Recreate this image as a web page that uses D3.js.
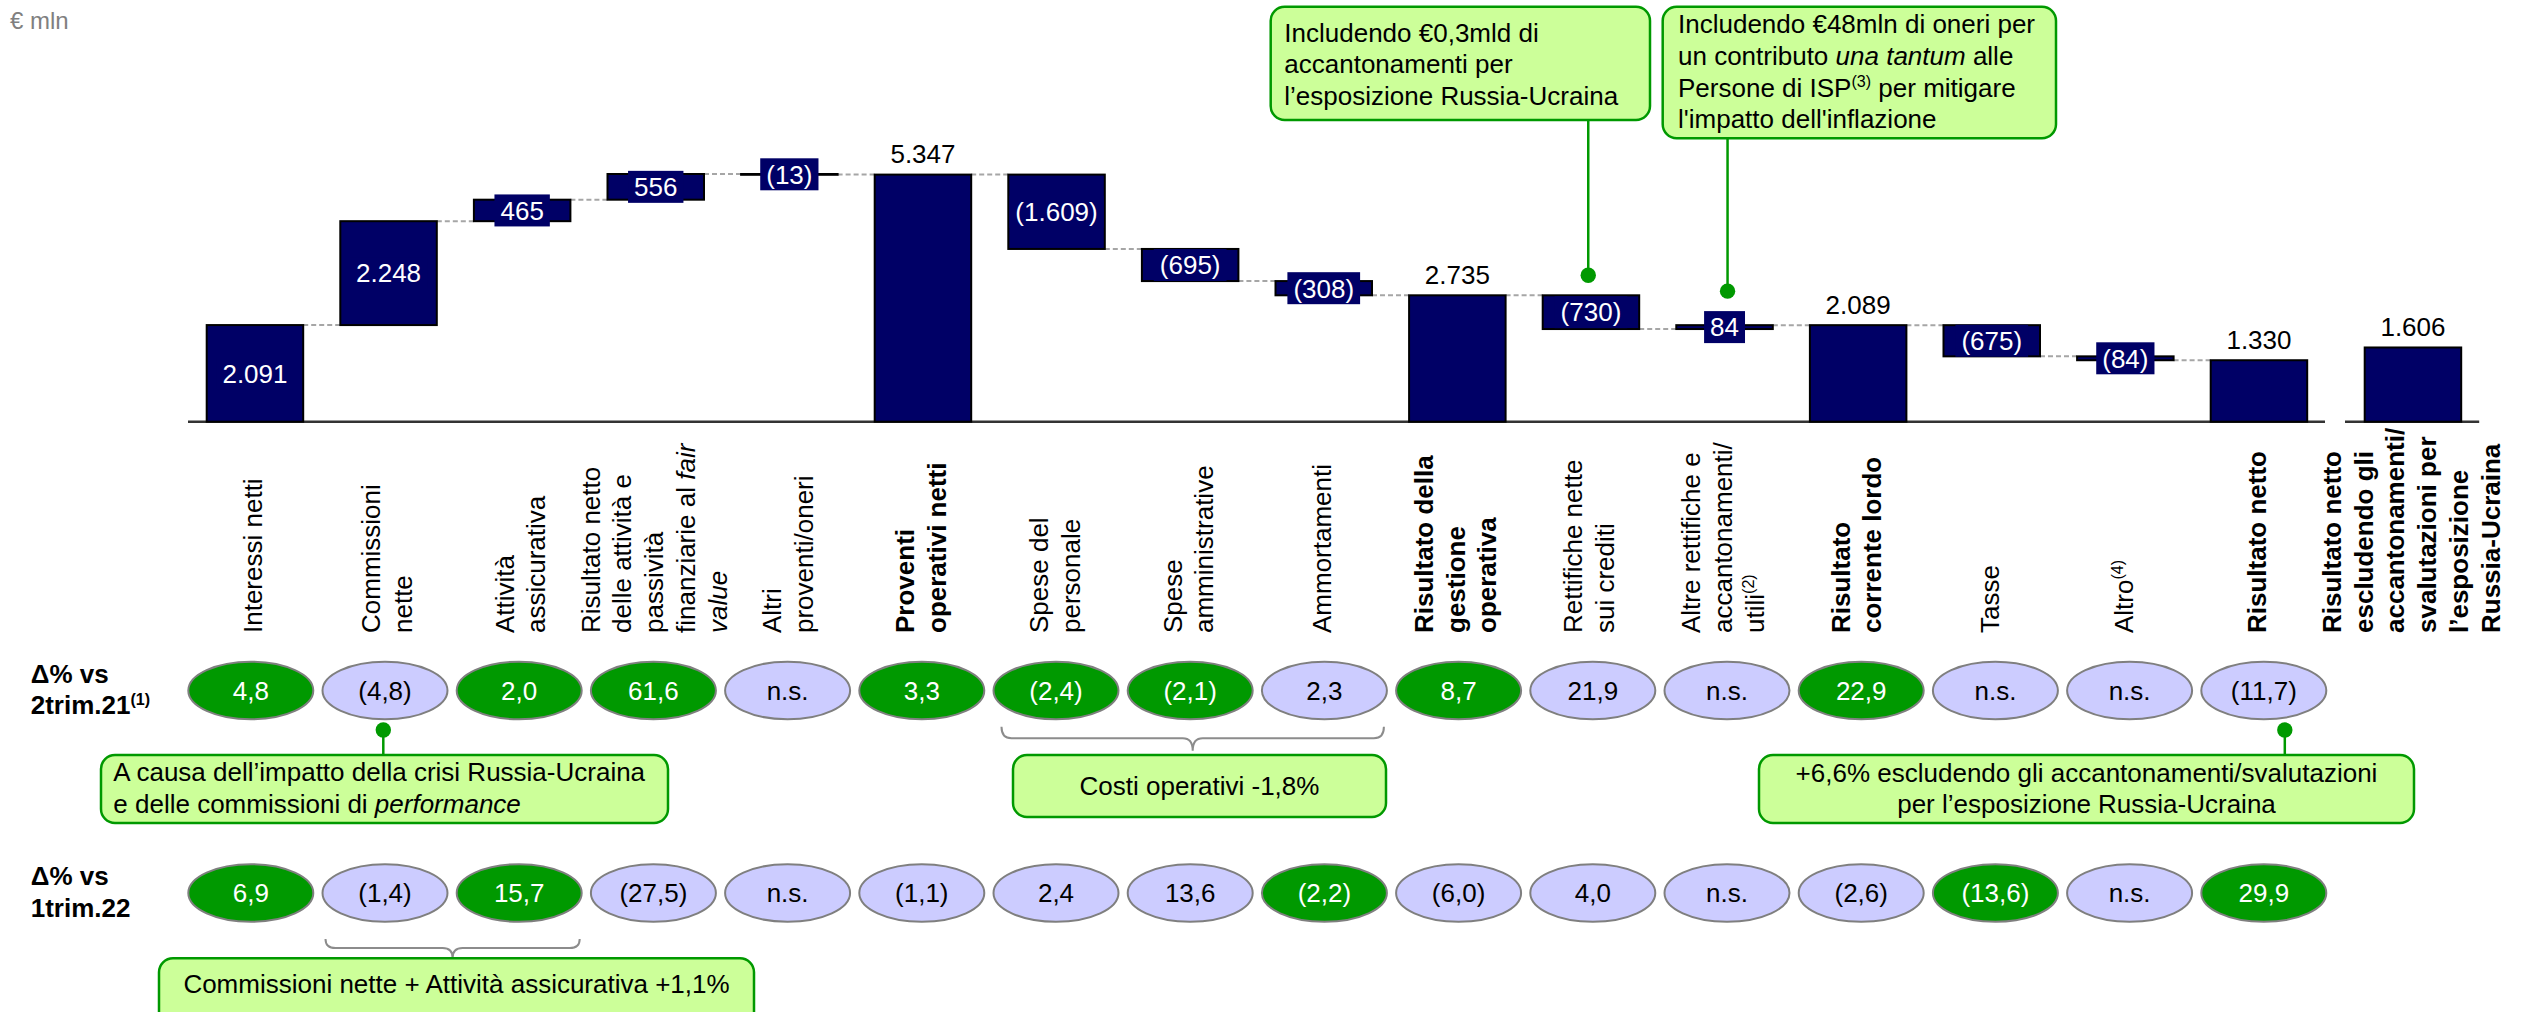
<!DOCTYPE html>
<html>
<head>
<meta charset="utf-8">
<script src="https://cdn.jsdelivr.net/npm/d3@7"></script>
<style>
	body { margin: 0; background: #fff; }
	svg text { font-family: "Liberation Sans", Arial, Helvetica, sans-serif; }
</style>
</head>
<body>
<div id="chart_area"></div>
<script>

//////////////////////DATA//////////////////////////

// rotated category labels, one entry per line ("_x_" italic, "^x^" superscript)
var categories = [
	["Interessi netti"],
	["Commissioni", "nette"],
	["Attività", "assicurativa"],
	["Risultato netto", "delle attività e", "passività", "finanziarie al _fair_", "_value_"],
	["Altri", "proventi/oneri"],
	["Proventi", "operativi netti"],
	["Spese del", "personale"],
	["Spese", "amministrative"],
	["Ammortamenti"],
	["Risultato della", "gestione", "operativa"],
	["Rettifiche nette", "sui crediti"],
	["Altre rettifiche e", "accantonamenti/", "utili^(2)^"],
	["Risultato", "corrente lordo"],
	["Tasse"],
	["Altro^(4)^"],
	["Risultato netto"],
	["Risultato netto", "escludendo gli", "accantonamenti/", "svalutazioni per", "l’esposizione", "Russia-Ucraina"]
];
var boldCategories = [5, 9, 12, 15, 16];

// waterfall values, € mln
var values = [2091, 2248, 465, 556, -13, 5347, -1609, -695, -308, 2735, -730, 84, 2089, -675, -84, 1330, 1606];
var barTypes = ["start", "delta", "delta", "delta", "delta", "total", "delta", "delta", "delta", "total",
				"delta", "delta", "total", "delta", "delta", "total", "extra"];

// Δ% rows (good = green bubble)
var rowLabels = [["Δ% vs", "2trim.21^(1)^"], ["Δ% vs", "1trim.22"]];
var vs2q21 = ["4,8", "(4,8)", "2,0", "61,6", "n.s.", "3,3", "(2,4)", "(2,1)", "2,3", "8,7", "21,9", "n.s.", "22,9", "n.s.", "n.s.", "(11,7)"];
var vs2q21Good = [1, 0, 1, 1, 0, 1, 1, 1, 0, 1, 0, 0, 1, 0, 0, 0];
var vs1q22 = ["6,9", "(1,4)", "15,7", "(27,5)", "n.s.", "(1,1)", "2,4", "13,6", "(2,2)", "(6,0)", "4,0", "n.s.", "(2,6)", "(13,6)", "n.s.", "29,9"];
var vs1q22Good = [1, 0, 1, 0, 0, 0, 0, 0, 1, 0, 0, 0, 0, 1, 0, 1];

// callout texts
var noteProvisions = ["Includendo €0,3mld di", "accantonamenti per", "l’esposizione Russia-Ucraina"];
var noteCharges = ["Includendo €48mln di oneri per", "un contributo _una tantum_ alle", "Persone di ISP^(3)^ per mitigare", "l'impatto dell'inflazione"];
var noteFees = ["A causa dell’impatto della crisi Russia-Ucraina", "e delle commissioni di _performance_"];
var noteCosts = ["Costi operativi -1,8%"];
var noteNet = ["+6,6% escludendo gli accantonamenti/svalutazioni", "per l’esposizione Russia-Ucraina"];
var noteFeesIns = ["Commissioni nette + Attività assicurativa +1,1%"];
var unitLabel = "€ mln";


//////////////////////SETUP//////////////////////////

var frame_width = 2524;
var frame_height = 1012;
var fs = 26;          // base font size
var lh = 31.7;        // line height
var navy = "#000066";
var green = "#009900";
var lilac = "#ccccff";
var noteFill = "#ccff99";

var svg = d3.select("#chart_area").append("svg")
			.attr("width", frame_width)
			.attr("height", frame_height);

var itLocale = d3.formatLocale({decimal: ",", thousands: ".", grouping: [3], currency: ["€", ""]});
var fmt = itLocale.format(",");
function fmtVal(v) { return v < 0 ? "(" + fmt(-v) + ")" : fmt(v); }

// write a string with italic / superscript markup into a text element
function rich(textEl, str, size) {
	var parts = str.split(/(_[^_]+_|\^[^\^]+\^)/).filter(function(s){ return s.length; });
	var raised = false;
	parts.forEach(function(p){
		var t;
		if (p[0] == "^") {
			t = textEl.append("tspan").attr("font-size", size * 0.62).attr("dy", -size * 0.38).text(p.slice(1, -1));
			raised = true;
		} else {
			t = textEl.append("tspan").text(p[0] == "_" ? p.slice(1, -1) : p);
			if (p[0] == "_") t.style("font-style", "italic");
			if (raised) { t.attr("dy", size * 0.38); raised = false; }
		}
	});
	return textEl;
}

// running levels of the waterfall
var level = 0;
var bars = values.map(function(v, i){
	var t = barTypes[i], y0, y1;
	if (t == "delta") { y0 = level; y1 = level + v; }
	else { y0 = 0; y1 = v; }
	level = y1;
	return {i: i, v: v, type: t, lo: Math.min(y0, y1), hi: Math.max(y0, y1), end: y1};
});

// scales
var x = d3.scaleBand()
			.domain(d3.range(16))
			.range([169.6, 2344.3])
			.paddingInner(0.2777)
			.paddingOuter(0.2777);
var bw = x.bandwidth();
var extraX = x(15) + x.step() + 20.4;
function barX(i) { return i < 16 ? x(i) : extraX; }

var yScale = d3.scaleLinear()
			.domain([0, d3.max(bars, function(d){ return d.hi; })])
			.range([421.7, 174]);

var ex = d3.scaleBand()
			.domain(d3.range(16))
			.range([188.3, 2326.3])
			.paddingInner(0.0686)
			.paddingOuter(0);


//////////////////////WATERFALL//////////////////////////

svg.append("text")
	.attr("x", 10).attr("y", 29)
	.attr("font-size", 24)
	.attr("fill", "#808080")
	.text(unitLabel);

// dashed links between bars
var links = svg.append("g");
for (var i = 0; i < 15; i++) {
	links.append("line")
		.attr("x1", barX(i) + bw).attr("x2", barX(i + 1))
		.attr("y1", yScale(bars[i].end)).attr("y2", yScale(bars[i].end))
		.attr("stroke", "#a6a6a6")
		.attr("stroke-width", 2)
		.attr("stroke-dasharray", "5,3");
}

// baselines
svg.append("line")
	.attr("x1", x(0) - 18.7).attr("x2", x(15) + bw + 17.8)
	.attr("y1", yScale(0)).attr("y2", yScale(0))
	.attr("stroke", "#333").attr("stroke-width", 2.5);
svg.append("line")
	.attr("x1", extraX - 19.7).attr("x2", extraX + bw + 18)
	.attr("y1", yScale(0)).attr("y2", yScale(0))
	.attr("stroke", "#333").attr("stroke-width", 2.5);

svg.append("g").selectAll("rect")
	.data(bars)
	.enter().append("rect")
	.attr("x", function(d){ return barX(d.i); })
	.attr("y", function(d){ return yScale(d.hi); })
	.attr("width", bw)
	.attr("height", function(d){ return Math.max(yScale(d.lo) - yScale(d.hi), 0.8); })
	.attr("fill", navy)
	.attr("stroke", "#000")
	.attr("stroke-width", 2);

// value labels
var vl = svg.append("g").selectAll("g")
	.data(bars)
	.enter().append("g")
	.attr("transform", function(d){
		var cx = barX(d.i) + bw / 2;
		var cy = (d.type == "total" || d.type == "extra") ? yScale(d.hi) - 11.3 : (yScale(d.lo) + yScale(d.hi)) / 2;
		return "translate(" + cx + "," + cy + ")";
	});
vl.each(function(d){
	var g = d3.select(this);
	var inside = !(d.type == "total" || d.type == "extra");
	var t = g.append("text")
		.attr("text-anchor", "middle")
		.attr("font-size", fs)
		.attr("y", inside ? fs * 0.358 : 0)
		.attr("fill", inside ? "#fff" : "#000")
		.text(fmtVal(d.v));
	if (inside) {
		var w = t.node().getComputedTextLength() + 12;
		g.insert("rect", "text")
			.attr("x", -w / 2).attr("y", -16)
			.attr("width", w).attr("height", 32)
			.attr("fill", navy);
	}
});

// rotated category labels
var cats = svg.append("g").selectAll("g")
	.data(categories)
	.enter().append("g")
	.attr("transform", function(d, i){ return "translate(" + (barX(i) + bw / 2 - 2) + ",633) rotate(-90)"; });
cats.each(function(lines, i){
	var g = d3.select(this);
	var y0 = (fs * 0.72 - (lines.length - 1) * lh) / 2;
	lines.forEach(function(line, k){
		var t = g.append("text")
			.attr("x", 0).attr("y", y0 + k * lh)
			.attr("font-size", fs)
			.attr("font-weight", boldCategories.indexOf(i) >= 0 ? "bold" : "normal");
		rich(t, line, fs);
	});
});


//////////////////////Δ% ROWS//////////////////////////

var rows = [
	{vals: vs2q21, good: vs2q21Good, cy: 690.5, label: rowLabels[0]},
	{vals: vs1q22, good: vs1q22Good, cy: 893, label: rowLabels[1]}
];
rows.forEach(function(row){
	row.label.forEach(function(line, k){
		var t = svg.append("text")
			.attr("x", 30.7).attr("y", row.cy - 7.8 + k * lh)
			.attr("font-size", fs).attr("font-weight", "bold");
		rich(t, line, fs);
	});
	var b = svg.append("g").selectAll("g")
		.data(row.vals)
		.enter().append("g")
		.attr("transform", function(d, i){ return "translate(" + (ex(i) + ex.bandwidth() / 2) + "," + row.cy + ")"; });
	b.append("ellipse")
		.attr("rx", ex.bandwidth() / 2).attr("ry", 28.8)
		.attr("fill", function(d, i){ return row.good[i] ? green : lilac; })
		.attr("stroke", "#7f7f7f").attr("stroke-width", 2);
	b.append("text")
		.attr("text-anchor", "middle")
		.attr("y", fs * 0.358)
		.attr("font-size", fs)
		.attr("fill", function(d, i){ return row.good[i] ? "#fff" : "#000"; })
		.text(function(d){ return d; });
});


//////////////////////CALLOUTS//////////////////////////

function noteBox(x0, y0, x1, y1) {
	svg.append("rect")
		.attr("x", x0).attr("y", y0)
		.attr("width", x1 - x0).attr("height", y1 - y0)
		.attr("rx", 14).attr("ry", 14)
		.attr("fill", noteFill)
		.attr("stroke", green).attr("stroke-width", 2.5);
}
function noteText(lines, tx, ty, anchor) {
	lines.forEach(function(line, k){
		var t = svg.append("text")
			.attr("x", tx).attr("y", ty + k * lh)
			.attr("font-size", fs)
			.attr("text-anchor", anchor || "start");
		rich(t, line, fs);
	});
}
function leader(lx, ya, yb, dotY) {
	svg.append("line")
		.attr("x1", lx).attr("x2", lx).attr("y1", ya).attr("y2", yb)
		.attr("stroke", green).attr("stroke-width", 2.5);
	svg.append("circle")
		.attr("cx", lx).attr("cy", dotY).attr("r", 7.7)
		.attr("fill", green);
}
function brace(xa, xb, yt, tip) {
	var xm = (xa + xb) / 2, ym = yt + tip * 0.48, yb = yt + tip, r = 10;
	svg.append("path")
		.attr("d", "M" + xa + "," + yt + " Q" + xa + "," + ym + " " + (xa + r) + "," + ym +
				" L" + (xm - r) + "," + ym + " Q" + xm + "," + ym + " " + xm + "," + yb +
				" Q" + xm + "," + ym + " " + (xm + r) + "," + ym +
				" L" + (xb - r) + "," + ym + " Q" + xb + "," + ym + " " + xb + "," + yt)
		.attr("fill", "none")
		.attr("stroke", "#8c8c8c").attr("stroke-width", 2);
}

var cxOf = function(i){ return x(i) + bw / 2; };
var ecx = function(i){ return ex(i) + ex.bandwidth() / 2; };

// provisions on loans
leader(cxOf(10) - 2.7, 120, yScale(bars[10].hi) - 20, yScale(bars[10].hi) - 20);
noteBox(1270.7, 6.7, 1650, 120);
noteText(noteProvisions, 1284.3, 41.7);

// one-off charges
leader(cxOf(11) + 3, 138.3, yScale(bars[11].hi) - 34, yScale(bars[11].hi) - 34);
noteBox(1662.7, 6.7, 2056, 138.3);
noteText(noteCharges, 1678, 33.3);

// fees
leader(ecx(1) - 1.7, 730, 755, 730);
noteBox(101, 755, 668, 823);
noteText(noteFees, 113.3, 781);

// operating costs
brace(ex(6) + 8, ex(8) + ex.bandwidth() - 3, 726.7, 24);
noteBox(1013, 755, 1386, 817);
noteText(noteCosts, 1199.5, 795, "middle");

// net income
leader(ecx(15) + 21, 730, 755, 730);
noteBox(1759, 755, 2414, 823);
noteText(noteNet, 2086.5, 781.7, "middle");

// fees + insurance
brace(ex(1) + 3, ex(2) + ex.bandwidth() - 2, 939, 19);
noteBox(159, 958.3, 754, 1030);
noteText(noteFeesIns, 456.5, 993, "middle");

</script>
</body>
</html>
